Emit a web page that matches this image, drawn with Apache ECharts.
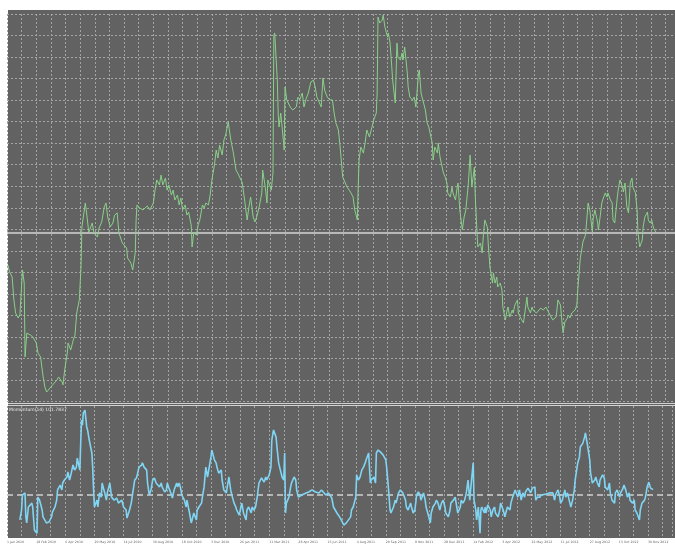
<!DOCTYPE html>
<html><head><meta charset="utf-8">
<script src="https://cdn.jsdelivr.net/npm/echarts@6/dist/echarts.min.js"></script>
<style>html,body{margin:0;padding:0;background:#fff}#c{width:675px;height:547px}</style>
</head><body><div id="c"></div>
<script>
// Date labels shown every second vertical grid line (one grid line = 17 bars)
const dateLabels = ['1 Jan 2010','18 Feb 2010','6 Apr 2010','20 May 2010','14 Jul 2010','30 Aug 2010','18 Oct 2010','3 Dec 2010','26 Jan 2011','11 Mar 2011','28 Apr 2011','15 Jun 2011','4 Aug 2011','20 Sep 2011','8 Nov 2011','28 Dec 2011','14 Feb 2012','3 Apr 2012','22 May 2012','11 Jul 2012','27 Aug 2012','15 Oct 2012','30 Nov 2012'];
const barsPerGridLine = 17;
const totalBars = 776;

// [bar number, price]
const priceSeries = [[1,163.4],[3,160.2],[6,157.8],[8,147.2],[10,141.1],[13,138.8],[15,140.2],[17,139.3],[18,161.1],[20,155.0],[21,120.7],[23,131.8],[27,130.9],[30,130.0],[34,127.2],[36,122.5],[39,120.7],[42,111.4],[44,106.7],[46,104.4],[50,106.3],[53,107.7],[58,110.0],[60,111.4],[64,109.1],[65,107.7],[67,114.6],[70,122.5],[71,127.2],[74,123.9],[77,128.6],[79,130.9],[81,141.1],[84,147.2],[86,162.5],[87,181.1],[88,182.0],[91,192.2],[93,185.7],[95,178.7],[99,182.9],[101,178.3],[105,176.4],[107,180.6],[110,183.4],[113,190.4],[115,192.2],[117,185.7],[120,181.1],[123,182.9],[125,186.6],[128,187.6],[130,178.3],[134,173.6],[136,172.7],[139,171.3],[140,166.7],[144,164.3],[146,161.1],[147,160.2],[149,169.0],[150,184.3],[151,191.3],[154,189.9],[158,189.0],[163,190.8],[166,189.0],[170,192.2],[172,198.2],[174,202.9],[177,200.6],[179,205.2],[181,200.6],[184,203.8],[186,198.2],[188,200.6],[191,195.9],[193,198.2],[195,193.6],[198,195.9],[200,191.3],[202,194.5],[204,189.0],[207,191.3],[209,186.6],[211,188.0],[214,182.0],[215,171.8],[217,178.7],[220,177.3],[222,182.0],[224,184.3],[227,191.3],[229,189.9],[231,192.2],[234,191.3],[236,195.9],[238,202.9],[241,209.9],[243,216.8],[245,213.1],[247,219.1],[250,214.5],[252,221.5],[254,223.8],[257,229.8],[258,227.0],[260,221.5],[263,215.4],[266,207.5],[268,206.1],[273,202.0],[274,199.6],[276,193.6],[279,184.3],[281,190.4],[283,195.0],[286,185.7],[288,183.4],[290,185.7],[293,190.4],[296,196.9],[297,207.5],[300,199.6],[302,192.2],[303,202.9],[307,198.2],[309,206.1],[310,270.2],[311,271.2],[314,249.3],[315,234.0],[316,227.5],[318,234.0],[321,221.5],[322,216.8],[323,246.1],[325,240.1],[329,236.8],[332,235.4],[336,236.8],[338,241.4],[340,240.1],[343,243.3],[345,236.8],[347,240.1],[350,243.3],[353,248.4],[356,249.3],[358,246.1],[360,241.4],[363,238.7],[365,236.8],[367,250.3],[369,244.7],[372,241.4],[375,240.1],[378,240.1],[380,234.0],[382,229.4],[385,226.1],[387,218.2],[389,208.9],[390,204.3],[393,201.5],[395,199.6],[399,197.3],[402,195.0],[404,189.0],[407,184.3],[408,199.6],[409,212.2],[411,218.2],[414,215.4],[416,220.1],[418,226.1],[421,222.9],[424,227.5],[426,230.8],[429,234.0],[430,243.3],[431,278.6],[433,275.8],[436,277.2],[437,279.5],[439,274.0],[442,269.3],[443,271.2],[445,266.5],[447,255.4],[448,249.3],[451,238.7],[453,266.5],[454,260.0],[457,258.6],[459,261.9],[460,258.6],[462,264.7],[465,252.6],[466,246.1],[468,241.4],[471,240.1],[473,241.4],[475,236.8],[478,252.6],[479,254.0],[481,243.3],[483,240.1],[486,235.4],[488,229.4],[490,227.5],[494,220.1],[495,212.2],[497,218.2],[500,215.4],[501,220.1],[503,213.6],[507,206.1],[509,204.3],[511,201.5],[512,196.9],[515,195.0],[517,199.6],[518,196.9],[521,193.6],[523,199.6],[524,201.5],[526,189.0],[529,179.7],[531,185.7],[533,189.0],[536,201.5],[538,214.5],[540,199.6],[541,202.9],[543,208.9],[544,195.0],[546,178.3],[547,171.8],[550,173.6],[552,169.0],[553,175.0],[555,184.3],[558,181.1],[559,173.6],[561,162.5],[564,155.0],[565,159.7],[567,155.0],[569,157.8],[570,153.2],[573,155.0],[575,151.8],[576,143.9],[579,137.9],[581,142.5],[582,143.9],[584,139.3],[587,142.5],[588,141.1],[590,144.8],[593,147.2],[594,141.1],[596,139.3],[598,137.9],[600,136.5],[602,142.5],[604,148.5],[605,143.9],[608,141.1],[610,143.9],[611,142.5],[615,141.1],[617,141.6],[620,143.4],[623,142.5],[626,143.9],[629,141.6],[632,139.3],[634,137.9],[638,139.3],[640,147.2],[643,144.8],[645,135.5],[646,131.8],[648,136.9],[651,138.8],[652,140.2],[654,138.8],[656,141.1],[660,142.5],[662,144.8],[663,151.8],[666,166.7],[668,171.3],[669,174.1],[672,177.3],[674,186.6],[675,192.2],[677,189.0],[680,178.7],[681,185.2],[683,189.0],[686,183.4],[687,179.7],[689,185.7],[691,192.2],[692,193.6],[695,196.9],[697,195.0],[698,196.9],[701,193.6],[703,192.2],[704,184.3],[706,182.9],[709,195.0],[710,198.2],[712,202.9],[715,199.6],[716,197.3],[718,201.5],[720,190.4],[722,187.6],[724,201.5],[726,203.8],[727,199.6],[730,196.9],[732,189.0],[733,178.3],[735,171.8],[738,175.0],[739,181.1],[741,185.7],[744,188.0],[745,184.3],[747,182.9],[749,184.3],[751,180.6],[753,181.1],[754,178.6]];

// [bar number, Momentum(14)]
const momentumSeries = [[15,91.7],[17,95.0],[18,100.0],[21,100.7],[22,92.7],[23,90.7],[25,96.0],[29,97.3],[30,96.0],[32,88.3],[35,87.3],[36,99.3],[38,98.3],[41,95.0],[42,92.7],[44,91.7],[46,90.7],[49,91.0],[52,92.7],[53,94.3],[56,96.0],[58,98.3],[59,101.7],[62,103.3],[64,101.7],[65,104.0],[67,105.0],[70,106.0],[71,107.7],[73,105.0],[75,107.3],[77,110.0],[79,108.3],[81,109.3],[82,112.3],[85,108.3],[86,117.3],[87,125.0],[88,123.3],[89,127.3],[91,128.3],[93,122.7],[94,121.7],[96,118.3],[99,114.0],[100,109.3],[101,101.7],[102,96.0],[105,98.3],[106,96.0],[108,100.7],[110,99.3],[111,104.0],[114,100.7],[116,98.3],[117,100.7],[120,104.0],[122,99.3],[123,99.0],[125,98.3],[128,99.0],[130,97.3],[134,98.3],[136,96.0],[139,95.0],[140,92.3],[143,95.0],[145,97.3],[146,99.3],[149,105.0],[151,105.7],[152,106.7],[154,109.3],[157,110.0],[158,110.7],[160,109.3],[163,108.3],[164,104.0],[166,100.0],[168,101.7],[170,105.0],[172,105.7],[174,104.0],[175,104.3],[178,102.7],[180,104.0],[181,102.7],[184,101.0],[186,101.7],[187,104.0],[189,102.3],[192,100.0],[193,99.0],[195,101.7],[198,104.0],[199,102.7],[201,104.0],[203,101.7],[204,100.0],[207,98.3],[209,96.0],[210,98.3],[213,94.0],[215,90.7],[216,91.7],[218,94.0],[221,91.7],[222,95.0],[224,96.0],[227,97.3],[228,99.3],[230,102.7],[232,109.3],[234,106.0],[236,109.3],[238,112.7],[239,115.0],[242,111.7],[244,110.7],[245,109.3],[247,107.3],[250,108.3],[251,105.0],[253,101.7],[256,100.7],[257,102.7],[259,106.0],[261,101.7],[263,99.3],[265,97.3],[267,96.0],[268,95.0],[271,93.3],[273,96.0],[274,97.3],[276,94.0],[279,91.7],[280,95.0],[282,96.0],[285,94.0],[286,96.0],[288,95.0],[290,96.0],[292,99.3],[294,104.0],[296,104.0],[297,105.7],[300,104.3],[302,106.0],[303,105.0],[306,106.7],[308,109.3],[309,118.3],[311,121.7],[314,119.3],[315,116.0],[317,110.7],[319,108.3],[321,106.0],[323,105.0],[324,114.0],[325,94.0],[326,97.3],[329,99.3],[331,102.7],[332,104.0],[335,106.0],[337,105.0],[338,101.7],[340,99.3],[344,100.0],[349,100.7],[352,101.0],[356,101.7],[360,101.0],[364,100.7],[367,101.7],[372,100.0],[375,100.7],[379,99.0],[381,96.0],[385,94.0],[389,92.3],[393,90.0],[396,90.7],[401,92.7],[402,95.0],[404,96.0],[407,99.3],[408,106.7],[410,105.0],[412,106.0],[414,108.3],[416,109.3],[418,110.7],[419,111.7],[422,114.0],[424,104.0],[425,105.0],[428,106.0],[430,104.0],[431,114.0],[433,115.0],[436,114.3],[437,114.0],[439,113.3],[442,111.7],[443,109.3],[445,102.7],[447,95.0],[448,94.0],[451,96.0],[453,98.3],[454,97.3],[457,100.7],[459,101.7],[460,102.3],[462,100.7],[465,98.3],[466,96.0],[468,95.0],[471,97.3],[472,96.0],[474,94.0],[476,95.0],[478,100.0],[480,101.0],[482,100.0],[483,98.3],[486,100.7],[488,98.3],[489,96.0],[491,94.0],[494,90.7],[495,94.0],[497,96.0],[500,97.3],[501,98.3],[503,97.3],[505,95.0],[507,97.3],[509,98.3],[511,96.0],[512,94.0],[515,92.7],[517,95.0],[518,97.3],[521,98.3],[523,99.3],[524,99.3],[526,94.0],[529,96.0],[530,98.3],[532,97.3],[534,98.3],[536,100.7],[538,105.0],[540,98.3],[541,101.7],[544,110.7],[545,98.3],[547,95.0],[548,91.7],[550,96.0],[552,87.3],[553,95.0],[554,96.0],[557,94.0],[558,96.0],[559,94.0],[561,96.7],[564,95.0],[565,92.7],[567,95.0],[569,96.0],[570,94.0],[573,92.7],[575,95.0],[576,97.3],[579,95.0],[581,92.7],[582,94.0],[584,96.0],[587,95.0],[588,97.3],[590,99.3],[593,101.7],[594,102.3],[596,99.3],[598,101.7],[600,98.3],[602,100.7],[604,99.3],[605,101.0],[608,102.3],[610,101.7],[611,100.7],[613,102.3],[616,102.7],[617,98.3],[619,99.3],[622,99.3],[623,100.0],[625,100.0],[629,100.3],[633,100.7],[637,100.7],[639,98.3],[640,100.0],[643,101.7],[645,99.3],[646,97.3],[648,98.3],[651,101.7],[652,99.3],[654,100.7],[656,98.3],[658,96.0],[660,98.3],[662,101.7],[663,105.0],[666,110.7],[668,112.7],[669,116.0],[672,117.3],[674,119.3],[675,120.7],[677,117.3],[680,111.7],[681,107.3],[683,104.0],[686,105.0],[687,106.0],[689,104.0],[691,102.7],[692,105.0],[695,106.7],[697,105.7],[698,102.7],[701,101.7],[703,104.0],[704,100.7],[706,98.3],[709,97.3],[710,100.7],[712,101.7],[715,99.3],[716,100.7],[718,101.7],[720,103.3],[722,101.7],[724,99.3],[726,100.7],[727,98.3],[730,97.3],[732,98.3],[733,95.0],[735,94.0],[738,91.7],[739,95.0],[741,97.3],[744,98.3],[745,99.3],[747,102.7],[749,104.3],[751,102.3],[754,101.8]];

const momentumLevel = 100;
const momentumTitle = 'Momentum(14) 101.7837';
const priceAxis = {min: 100, max: 280, interval: 10};
const momentumAxis = {min: 85.67, max: 129.67};

const chart = echarts.init(document.getElementById('c'));
const BG = '#626262', GRIDC = '#a4a4a4';
const lastPrice = priceSeries[priceSeries.length - 1][1];
const dash = {color: GRIDC, type: [2, 2], width: 1};
function xAxisFor(idx, showLabels) {
  return {
    type: 'value', gridIndex: idx, min: 0, max: totalBars, interval: barsPerGridLine,
    axisLine: {show: false}, axisTick: {show: false},
    splitLine: {show: true, lineStyle: dash},
    axisLabel: {
      show: showLabels, fontSize: 3.2, color: '#666', align: 'left', margin: 3,
      fontFamily: 'DejaVu Sans', showMinLabel: true, showMaxLabel: true, hideOverlap: false,
      formatter: v => (v % (2 * barsPerGridLine) === 0 ? (dateLabels[v / (2 * barsPerGridLine)] || '') : '')
    }
  };
}
chart.setOption({
  animation: false,
  graphic: [
    {type: 'rect', z: -100, silent: true, shape: {x: 8, y: 10, width: 667, height: 528}, style: {fill: BG}},
    {type: 'line', z: 100, silent: true, shape: {x1: 8, y1: 403.5, x2: 675, y2: 403.5}, style: {stroke: '#d2d2d2', lineWidth: 1}},
    {type: 'line', z: 100, silent: true, shape: {x1: 8, y1: 405.5, x2: 675, y2: 405.5}, style: {stroke: '#d2d2d2', lineWidth: 1}}
  ],
  title: {
    text: momentumTitle, left: 9, top: 407, padding: 0,
    textStyle: {fontSize: 4.5, color: '#e6e6e6', fontWeight: 'normal', fontFamily: 'DejaVu Sans'}
  },
  grid: [
    {left: 7, right: 0, top: 14, height: 387.5},
    {left: 7, right: 0, top: 406, height: 132}
  ],
  xAxis: [xAxisFor(0, false), xAxisFor(1, true)],
  yAxis: [
    {type: 'value', gridIndex: 0, min: priceAxis.min, max: priceAxis.max, interval: priceAxis.interval,
     axisLine: {show: false}, axisTick: {show: false}, axisLabel: {show: false},
     splitLine: {show: true, lineStyle: dash}},
    {type: 'value', gridIndex: 1, min: momentumAxis.min, max: momentumAxis.max, show: false}
  ],
  series: [
    {type: 'line', xAxisIndex: 0, yAxisIndex: 0, data: priceSeries, symbol: 'none',
     lineStyle: {color: '#8ad08a', width: 1}, z: 5,
     markLine: {silent: true, symbol: 'none', label: {show: false},
       lineStyle: {color: '#d6d6d6', type: 'solid', width: 1.5}, data: [{yAxis: lastPrice}]}},
    {type: 'line', xAxisIndex: 1, yAxisIndex: 1, data: momentumSeries, symbol: 'none',
     lineStyle: {color: '#7fd5f3', width: 1.6}, z: 5,
     markLine: {silent: true, symbol: 'none', label: {show: false},
       lineStyle: {color: '#cfcfcf', type: [6, 4], width: 1.5}, data: [{yAxis: momentumLevel}]}}
  ]
});
</script></body></html>
